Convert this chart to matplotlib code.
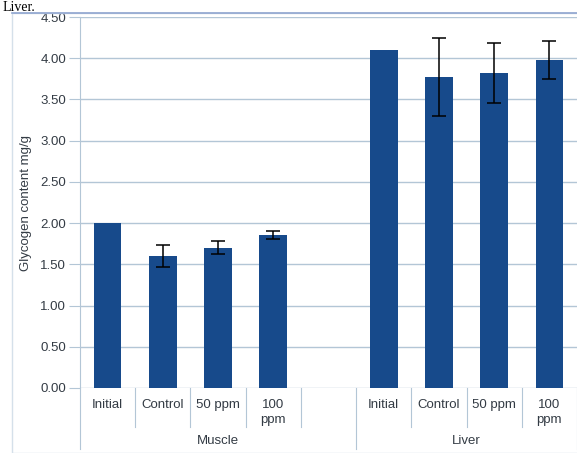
import numpy as np
import matplotlib
matplotlib.use('Agg')
import matplotlib.pyplot as plt
import matplotlib.transforms as mtransforms
from matplotlib.patches import Rectangle

# data
categorias = ['Initial', 'Control', '50 ppm', '100\nppm', '',
              'Initial', 'Control', '50 ppm', '100\nppm']
grupos = ['Muscle', 'Liver']
muscle_vals = [2.00, 1.60, 1.70, 1.86]
muscle_err = [0, 0.13, 0.08, 0.05]
liver_vals = [4.10, 3.77, 3.82, 3.98]
liver_err = [0, 0.47, 0.36, 0.23]

plt.rcParams['font.family'] = ['Liberation Sans', 'DejaVu Sans']

cor_barra = '#174a8b'
cor_grade = '#b3c6d6'
cor_texto = '#333b44'
tam = 9.5

fig = plt.figure(figsize=(5.77, 4.53), dpi=100)
ax = fig.add_axes([80 / 577, 1 - 388 / 453, 497 / 577, 371 / 453])

# moldura do grafico
fig.patches.append(Rectangle((12 / 577, 0), 1, 1 - 13 / 453, transform=fig.transFigure,
                             fill=False, edgecolor='#d5e0ea', linewidth=1))
fig.lines.append(plt.Line2D([12 / 577, 1], [1 - 13 / 453] * 2, transform=fig.transFigure,
                            color='#8fa5cf', linewidth=1.2))
fig.text(0.005, 1 - 1 / 453, 'Liver.', fontsize=10, family='Liberation Serif', va='top', ha='left')

x_muscle = np.arange(4)
x_liver = np.arange(5, 9)

ax.bar(x_muscle, muscle_vals, width=0.5, color=cor_barra, zorder=3)
ax.bar(x_liver, liver_vals, width=0.5, color=cor_barra, zorder=3)

# barras de erro
for xs, vals, errs in [(x_muscle, muscle_vals, muscle_err), (x_liver, liver_vals, liver_err)]:
    for x, v, e in zip(xs, vals, errs):
        if e > 0:
            ax.errorbar(x, v, yerr=e, color='black', linewidth=1.1, capsize=5, capthick=1.1, zorder=4)

ax.set_xlim(-0.5, 8.5)
ax.set_ylim(0, 4.5)
ax.set_yticks(np.arange(0, 4.51, 0.5))
ax.set_yticklabels([f'{v:.2f}' for v in np.arange(0, 4.51, 0.5)], fontsize=tam, color=cor_texto)
ax.yaxis.grid(True, color=cor_grade, linewidth=1, zorder=0)
ax.tick_params(axis='y', length=8, color=cor_grade, pad=2)

ax.set_xticks(range(9))
ax.set_xticklabels(categorias, fontsize=tam, color=cor_texto, va='top', linespacing=1.3)
ax.tick_params(axis='x', length=0, pad=8)

for lado in ['top', 'right', 'bottom']:
    ax.spines[lado].set_visible(False)
ax.spines['left'].set_color(cor_grade)

ax.set_ylabel('Glycogen content mg/g', fontsize=tam, color=cor_texto, labelpad=6)

# divisorias do eixo x
trans = mtransforms.blended_transform_factory(ax.transData, ax.transAxes)
for xd in [0.5, 1.5, 2.5, 3.5, 5.5, 6.5, 7.5]:
    ax.plot([xd, xd], [0, -0.105], color=cor_grade, linewidth=0.8, transform=trans, clip_on=False)
for xd in [-0.5, 4.5, 8.5]:
    ax.plot([xd, xd], [0, -0.165], color=cor_grade, linewidth=0.8, transform=trans, clip_on=False)

ax.text(2.0, -0.142, grupos[0], fontsize=tam, color=cor_texto, ha='center', va='center', transform=trans)
ax.text(6.5, -0.142, grupos[1], fontsize=tam, color=cor_texto, ha='center', va='center', transform=trans)

fig.savefig('out.png', dpi=100)
